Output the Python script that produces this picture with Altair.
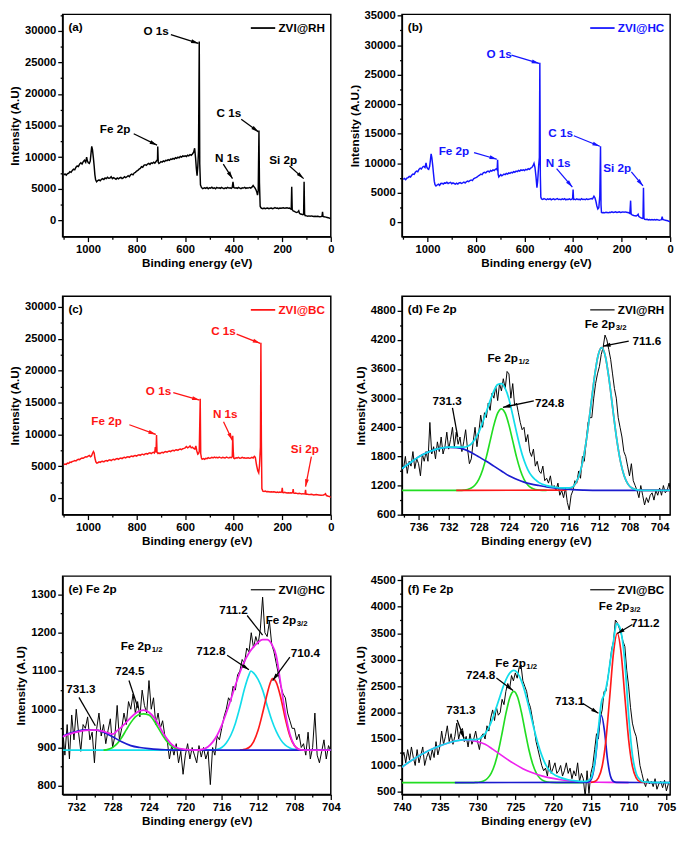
import math
import altair as alt
import pandas as pd

FONT = "Liberation Sans"
W = 275
BLACK = "#000000"
BLUE = "#1414FF"
RED = "#FF1414"
CYAN = "#12DDEB"
GREEN = "#22DD22"
FBLUE = "#1B1BCF"
FRED = "#FF1A1A"
MAGENTA = "#EE22EE"
ARROW = "M0,0L-0.42,1.6L0.42,1.6Z"

# ---------------- survey spectra (binding energy, intensity) ----------------
A_SURVEY = [
    (1100, 7200), (1095, 7350), (1090, 7150), (1085, 7400), (1080, 7450), (1075, 7700), (1070, 7600),
    (1065, 7900), (1060, 8100), (1055, 8000), (1050, 8400), (1045, 8600), (1040, 8500), (1035, 8900),
    (1030, 9100), (1025, 8900), (1020, 9300), (1015, 9500), (1010, 9200), (1006, 10000), (1003, 9400),
    (999, 9100), (995, 9000), (991, 9400), (988, 10600), (985, 11700), (982, 11200), (978, 9800),
    (975, 8600), (972, 7200), (969, 6400), (965, 6100), (960, 6300), (955, 6400), (950, 6250),
    (945, 6500), (940, 6600), (935, 6450), (930, 6700), (925, 6600), (920, 6800), (915, 6650),
    (910, 6700), (905, 6900), (900, 6600), (895, 6750), (890, 6650), (885, 6500), (880, 6700),
    (875, 6550), (870, 6700), (865, 6800), (860, 6600), (855, 6700), (850, 6900), (845, 6750),
    (840, 6900), (835, 7050), (830, 6900), (825, 7200), (820, 7300), (815, 7200), (810, 7500),
    (805, 7600), (800, 7800), (795, 7900), (790, 8100), (785, 8200), (780, 8500), (775, 8400),
    (770, 8700), (765, 8800), (760, 8700), (755, 8900), (750, 9000), (745, 8850), (740, 9100),
    (735, 9000), (730, 9200), (725, 9050), (720, 9300), (716, 9500), (714, 9600), (713, 11700),
    (711, 9200), (708, 9000), (704, 9100), (700, 9300), (695, 9200), (690, 9400), (685, 9300),
    (680, 9500), (675, 9450), (670, 9600), (665, 9500), (660, 9700), (655, 9650), (650, 9800),
    (645, 9700), (640, 9900), (635, 9800), (630, 10000), (625, 9900), (620, 10100), (615, 10000),
    (610, 10200), (605, 10100), (600, 10200), (595, 10100), (590, 10300), (585, 10200), (580, 10400),
    (575, 10300), (570, 10500), (565, 10800), (561, 11400), (557, 9800), (554, 8200), (551, 7060),
    (548, 8500), (545, 11000), (542, 28300), (540, 9000), (537, 5600), (533, 5200), (528, 5000),
    (520, 5150), (515, 5050), (510, 5200), (505, 5000), (500, 5150), (495, 5100), (490, 5250),
    (485, 5050), (480, 5150), (475, 5000), (470, 5200), (465, 5100), (460, 5150), (455, 5050),
    (450, 5200), (445, 5100), (440, 5000), (435, 5150), (430, 5050), (425, 5200), (420, 5100),
    (415, 5150), (410, 5050), (406, 5200), (403, 6100), (400, 5200), (396, 5100), (390, 5150),
    (385, 5050), (380, 5200), (375, 5100), (370, 5000), (365, 5150), (360, 5100), (355, 5200),
    (350, 5050), (345, 5150), (340, 5100), (335, 5200), (330, 5100), (325, 5250), (320, 5500),
    (316, 5300), (312, 5100), (308, 4800), (305, 4500), (302, 4000), (299, 4700), (296, 14200),
    (294, 6000), (291, 2200), (288, 2000), (285, 1900), (280, 1850), (275, 1950), (270, 1850),
    (265, 1900), (260, 1950), (255, 1850), (250, 1900), (245, 1950), (240, 1850), (235, 1900),
    (230, 2000), (225, 1900), (220, 1950), (215, 1850), (210, 1950), (205, 1900), (200, 1950),
    (195, 2000), (190, 1900), (185, 1950), (180, 2000), (175, 1900), (170, 1950), (166, 1800),
    (163, 1750), (161, 5300), (159, 1700), (155, 1500), (150, 1400), (145, 1300), (140, 1250),
    (135, 1350), (132, 1500), (129, 1100), (125, 1000), (120, 950), (115, 900), (112, 950),
    (110, 6100), (108, 1000), (106, 750), (100, 700), (95, 650), (90, 700), (85, 650), (80, 700),
    (75, 650), (70, 600), (65, 650), (60, 600), (55, 650), (50, 600), (45, 550), (40, 600),
    (36, 650), (34, 1350), (32, 600), (28, 550), (20, 500), (15, 450), (10, 400), (5, 350), (0, 250),
]

B_SURVEY = [
    (1100, 7300), (1095, 7450), (1090, 7250), (1085, 7500), (1080, 7600), (1075, 7800), (1070, 7700),
    (1065, 8000), (1060, 8200), (1055, 8150), (1050, 8500), (1045, 8700), (1040, 8600), (1035, 9000),
    (1030, 9200), (1025, 9050), (1020, 9400), (1015, 9500), (1010, 9300), (1006, 10100), (1003, 9400),
    (999, 9100), (995, 9000), (991, 9500), (988, 10500), (985, 11600), (982, 11000), (978, 9500),
    (975, 8200), (972, 7000), (969, 6400), (965, 6200), (960, 6350), (955, 6500), (950, 6300),
    (945, 6600), (940, 6650), (935, 6500), (930, 6700), (925, 6650), (920, 6800), (915, 6600),
    (910, 6700), (905, 6800), (900, 6550), (895, 6700), (890, 6600), (885, 6500), (880, 6650),
    (875, 6500), (870, 6700), (865, 6750), (860, 6600), (855, 6700), (850, 6850), (845, 6700),
    (840, 6900), (835, 7000), (830, 6900), (825, 7100), (820, 7200), (815, 7100), (810, 7400),
    (805, 7500), (800, 7600), (795, 7700), (790, 7900), (785, 8000), (780, 8200), (775, 8100),
    (770, 8400), (765, 8500), (760, 8400), (755, 8600), (750, 8700), (745, 8550), (740, 8800),
    (735, 8700), (730, 8900), (725, 8800), (720, 9000), (716, 9100), (713, 8900), (711, 10600),
    (709, 8200), (706, 7700), (702, 7900), (698, 8100), (694, 7900), (690, 8000), (685, 8200),
    (680, 8100), (675, 8300), (670, 8200), (665, 8400), (660, 8300), (655, 8500), (650, 8400),
    (645, 8600), (640, 8500), (635, 8700), (630, 8600), (625, 8800), (620, 8700), (615, 8900),
    (610, 8800), (605, 8900), (600, 8800), (595, 9000), (590, 8900), (585, 9100), (580, 9000),
    (575, 9200), (570, 9300), (565, 9600), (561, 10000), (557, 9300), (553, 7800), (549, 5900),
    (546, 7000), (542, 9500), (539, 11000), (537, 27000), (535, 8000), (533, 4300), (530, 4000),
    (525, 3900), (520, 4050), (515, 3950), (510, 3850), (505, 4000), (500, 3900), (495, 4050),
    (490, 3850), (485, 3950), (480, 4000), (475, 3850), (470, 3950), (465, 4050), (460, 3900),
    (455, 3950), (450, 3850), (445, 4000), (440, 3900), (435, 4050), (430, 3850), (425, 3950),
    (420, 3900), (415, 4000), (410, 3850), (405, 3950), (402, 4100), (400, 5600), (398, 3900),
    (395, 3950), (390, 3850), (385, 4000), (380, 3900), (375, 3950), (370, 3850), (365, 4050),
    (360, 3900), (355, 3950), (350, 3850), (345, 4000), (340, 3900), (335, 3950), (330, 4000),
    (325, 4050), (320, 4000), (314, 4450), (310, 4200), (306, 3600), (302, 2800), (298, 2300),
    (294, 2500), (290, 4500), (287, 12900), (285, 3000), (283, 1700), (280, 1650), (275, 1700),
    (270, 1650), (265, 1750), (260, 1700), (255, 1650), (250, 1750), (245, 1700), (240, 1800),
    (235, 1700), (230, 1750), (225, 1800), (220, 1700), (215, 1750), (210, 1800), (205, 1700),
    (200, 1750), (195, 1800), (190, 1750), (185, 1800), (180, 1750), (175, 1700), (170, 1650),
    (166, 1550), (163, 3700), (161, 1500), (157, 1300), (150, 1200), (145, 1150), (140, 1100),
    (135, 1250), (132, 1400), (129, 1000), (125, 900), (120, 800), (115, 700), (112, 750),
    (110, 5900), (108, 700), (105, 550), (100, 500), (95, 550), (90, 450), (85, 500), (80, 450),
    (75, 500), (70, 450), (65, 500), (60, 450), (55, 500), (50, 450), (45, 400), (40, 450),
    (36, 500), (33, 1000), (30, 500), (25, 450), (20, 400), (15, 350), (10, 300), (5, 200), (0, 100),
]

C_SURVEY = [
    (1100, 5250), (1095, 5350), (1090, 5300), (1085, 5500), (1080, 5450), (1075, 5650), (1070, 5600),
    (1065, 5750), (1060, 5800), (1055, 5900), (1050, 5850), (1045, 6000), (1040, 6100), (1035, 6050),
    (1030, 6200), (1025, 6300), (1020, 6250), (1015, 6400), (1010, 6500), (1005, 6450), (1000, 6600),
    (995, 6700), (990, 6500), (986, 6600), (982, 7000), (978, 7300), (975, 7100), (972, 6300),
    (968, 5700), (964, 5500), (960, 5550), (955, 5700), (950, 5600), (945, 5750), (940, 5800),
    (935, 5700), (930, 5850), (925, 5900), (920, 5800), (915, 5950), (910, 6000), (905, 5900),
    (900, 6050), (895, 6100), (890, 6000), (885, 6150), (880, 6200), (875, 6100), (870, 6250),
    (865, 6300), (860, 6200), (855, 6350), (850, 6400), (845, 6300), (840, 6450), (835, 6500),
    (830, 6400), (825, 6550), (820, 6600), (815, 6500), (810, 6650), (805, 6700), (800, 6600),
    (795, 6750), (790, 6800), (785, 6700), (780, 6850), (775, 6900), (770, 6800), (765, 6950),
    (760, 7000), (755, 6900), (750, 7050), (745, 7100), (740, 7000), (735, 7150), (730, 7200),
    (727, 7100), (725, 7300), (723, 8000), (721, 7200), (720, 7400), (718, 9900), (716, 7200),
    (712, 7000), (708, 7100), (704, 7000), (700, 7100), (695, 7200), (690, 7100), (685, 7250),
    (680, 7300), (675, 7200), (670, 7350), (665, 7400), (660, 7300), (655, 7450), (650, 7500),
    (645, 7400), (640, 7550), (635, 7600), (630, 7500), (625, 7650), (620, 7700), (615, 7600),
    (610, 7750), (605, 7800), (600, 7900), (595, 8100), (590, 7900), (585, 8000), (580, 8200),
    (575, 7900), (570, 8000), (565, 7800), (560, 7700), (556, 8200), (552, 7400), (548, 6900),
    (545, 7000), (542, 7300), (538, 15600), (536, 7000), (533, 6300), (530, 6100), (525, 6200),
    (520, 6100), (515, 6250), (510, 6200), (505, 6350), (500, 6250), (495, 6300), (490, 6400),
    (485, 6300), (480, 6450), (475, 6350), (470, 6400), (465, 6300), (460, 6450), (455, 6350),
    (450, 6300), (445, 6400), (440, 6350), (435, 6300), (430, 6450), (425, 6350), (420, 6300),
    (415, 6400), (410, 6350), (406, 6500), (404, 9800), (402, 7500), (400, 6300), (396, 6200),
    (390, 6350), (385, 6300), (380, 6400), (375, 6250), (370, 6300), (365, 6400), (360, 6300),
    (355, 6350), (350, 6250), (345, 6300), (340, 6350), (335, 6250), (330, 6300), (325, 6400),
    (320, 6300), (315, 6550), (311, 6400), (306, 5200), (301, 4300), (297, 3980), (294, 5000),
    (290, 8000), (288, 24400), (286, 9000), (284, 1500), (280, 1100), (275, 1050), (270, 1100),
    (265, 1000), (260, 1050), (255, 1000), (250, 950), (245, 1000), (240, 950), (235, 1000),
    (230, 950), (225, 900), (220, 950), (215, 900), (210, 950), (205, 900), (202, 1000),
    (200, 1600), (198, 900), (195, 850), (190, 900), (185, 850), (180, 800), (175, 850),
    (170, 800), (165, 850), (160, 800), (157, 900), (155, 1400), (153, 800), (150, 750),
    (145, 800), (140, 750), (135, 700), (130, 750), (125, 700), (120, 650), (115, 700),
    (110, 650), (106, 700), (104, 1300), (102, 600), (95, 600), (90, 550), (80, 600), (70, 500),
    (60, 550), (50, 500), (40, 450), (30, 500), (25, 600), (22, 700), (18, 400), (10, 300),
    (5, 250), (0, 100),
]

# ---------------- Fe 2p high-resolution spectra ----------------
# each row: intensities read at e, e-0.25, e-0.5, e-0.75 eV
D_RAW = {
    738: [1550, 1800, 1450, 1700], 737: [1600, 1900, 1550, 1750], 736: [1650, 1400, 1850, 1700],
    735: [1900, 1700, 2500, 1850], 734: [2000, 1750, 2100, 1900], 733: [2200, 1850, 2000, 2300],
    732: [1950, 2150, 2400, 2000], 731: [2300, 2050, 2200, 1900], 730: [2100, 2350, 1950, 1650],
    729: [1750, 2100, 2400, 2000], 728: [2300, 2650, 2400, 2700], 727: [2600, 2900, 2750, 3100],
    726: [3000, 3250, 2950, 3300], 725: [3150, 3400, 3200, 3550], 724: [3500, 3000, 3300, 2850],
    723: [2900, 2700, 2500, 2350], 722: [2400, 2100, 2250, 1900], 721: [1800, 1950, 1600, 1700],
    720: [1500, 1450, 1600, 1300], 719: [1350, 1250, 1400, 1150], 718: [1200, 1100, 1250, 1000],
    717: [1100, 950, 1150, 850], 716: [700, 1000, 1100, 1300], 715: [1250, 1500, 1350, 1800],
    714: [1700, 2100, 2500, 2600], 713: [2600, 3000, 3300, 3500], 712: [3650, 3900, 4050, 4300],
    711: [4200, 4000, 3800, 3500], 710: [3200, 3000, 2600, 2400], 709: [2200, 1900, 1800, 1600],
    708: [1400, 1650, 1300, 1200], 707: [1100, 950, 1200, 1000], 706: [800, 950, 850, 1000],
    705: [1050, 900, 1100, 1000], 704: [1150, 1000, 1200, 1050], 703: [1100, 1250, 1050, 1150],
}
D_CYAN = [(738.2, 1550), (737, 1680), (736, 1790), (735, 1870), (734, 1930), (733, 1970), (732, 1990),
          (731, 1990), (730, 1990), (729.5, 2010), (729, 2060), (728.5, 2160), (728, 2300), (727.5, 2500),
          (727, 2720), (726.5, 2950), (726, 3150), (725.5, 3280), (725, 3300), (724.5, 3200), (724, 2980),
          (723.5, 2650), (723, 2300), (722.5, 1980), (722, 1720), (721.5, 1530), (721, 1400), (720.5, 1320),
          (720, 1260), (719, 1200), (718, 1170), (717, 1150), (716, 1150), (715.5, 1175), (715.2, 1239),
          (714.7, 1403), (714.2, 1702), (713.7, 2163), (713.2, 2756), (712.7, 3378), (712.2, 3858),
          (711.7, 4040), (711.2, 3858), (710.7, 3378), (710.2, 2756), (709.7, 2160), (709.2, 1697),
          (708.7, 1395), (708.2, 1229), (707.7, 1150), (707.2, 1120), (706.7, 1105), (706, 1100), (702.6, 1100)]
D_BLUE = [(738.2, 1550), (737, 1680), (736, 1790), (735, 1870), (734, 1930), (733, 1970), (732, 1985),
          (731, 1980), (730, 1950), (729, 1880), (728, 1790), (727, 1700), (726, 1600), (725, 1500),
          (724, 1400), (723, 1330), (722, 1270), (721, 1230), (720, 1200), (719, 1170), (718, 1150),
          (717, 1135), (716, 1120), (715, 1110), (714, 1105), (712, 1100), (702.6, 1100)]
D_GREEN = [(738.2, 1100), (730.5, 1100), (730, 1106), (729.5, 1118), (729, 1148), (728.5, 1211), (728, 1327),
           (727.5, 1520), (727, 1790), (726.5, 2120), (726, 2445), (725.5, 2690), (725, 2780), (724.5, 2690),
           (724, 2445), (723.5, 2120), (723, 1790), (722.5, 1520), (722, 1327), (721.5, 1211), (721, 1148),
           (720.5, 1118), (720, 1106), (719, 1100)]
D_RED = [(731, 1100), (716.7, 1105), (716.2, 1120), (715.7, 1150), (715.2, 1229), (714.7, 1395), (714.2, 1697),
         (713.7, 2160), (713.2, 2756), (712.7, 3378), (712.2, 3858), (711.7, 4040), (711.2, 3858), (710.7, 3378),
         (710.2, 2756), (709.7, 2160), (709.2, 1697), (708.7, 1395), (708.2, 1229), (707.7, 1150), (707.2, 1120),
         (706.7, 1105), (706.2, 1100), (702.6, 1100)]

E_RAW = {
    734: [930, 900, 950, 880], 733: [960, 870, 985, 920], 732: [1000, 940, 890, 960],
    731: [950, 980, 920, 940], 730: [860, 950, 990, 930], 729: [960, 910, 945, 975],
    728: [900, 930, 1010, 920], 727: [950, 990, 960, 1020], 726: [1000, 1040, 990, 1020],
    725: [980, 1050, 1010, 990], 724: [1075, 1000, 1030, 960], 723: [990, 950, 970, 930],
    722: [920, 870, 905, 880], 721: [910, 860, 890, 830], 720: [880, 910, 870, 900],
    719: [880, 860, 905, 875], 718: [900, 870, 890, 803], 717: [900, 880, 930, 920],
    716: [950, 980, 1000, 1030], 715: [1020, 1060, 1050, 1090], 714: [1100, 1130, 1120, 1160],
    713: [1150, 1200, 1160, 1190], 712: [1170, 1210, 1293, 1200], 711: [1190, 1230, 1170, 1150],
    710: [1120, 1090, 1060, 1040], 709: [1030, 990, 970, 950], 708: [950, 920, 935, 900],
    707: [910, 880, 940, 870], 706: [900, 990, 880, 860], 705: [890, 920, 870, 905],
    704: [890, 910, 880, 900],
}
E_MAGENTA = [(733.5, 928), (733, 933), (732, 940), (731, 945), (730, 946), (729, 942), (728.5, 938), (728, 935),
             (727.5, 944), (727, 954), (726.5, 966), (726, 978), (725.5, 989), (725, 996), (724.6, 998),
             (724, 992), (723.5, 980), (723, 962), (722.5, 940), (722, 922), (721.5, 908), (721, 900),
             (720, 895), (719, 893), (718, 896), (717.5, 902), (717, 914), (716.5, 932), (716, 958),
             (715.5, 990), (715, 1025), (714.5, 1062), (714, 1096), (713.5, 1125), (713, 1147), (712.5, 1163),
             (712, 1175), (711.5, 1182), (711, 1182), (710.5, 1170), (710, 1140), (709.5, 1065), (709, 990),
             (708.5, 935), (708, 905), (707.5, 895), (707, 893), (704, 893)]
E_BLUE = [(733.5, 928), (733, 935), (732, 942), (731, 946), (730, 946), (729, 940), (728, 928), (727, 915),
          (726, 905), (725, 900), (724, 897), (723, 895), (722, 894), (720, 893), (704, 893)]
E_GREEN = [(729, 893), (728.5, 895), (728, 900), (727.5, 910), (727, 926), (726.5, 946), (726, 965), (725.5, 980),
           (725, 987), (724.6, 988), (724, 985), (723.5, 972), (723, 952), (722.5, 932), (722, 915), (721.5, 903),
           (721, 897), (720.5, 894), (720, 893)]
E_CYAN = [(733.5, 893), (717, 893), (716.5, 895), (716, 900), (715.5, 912), (715, 932), (714.5, 963), (714, 1005),
          (713.5, 1053), (713, 1090), (712.8, 1100), (712.5, 1095), (712, 1078), (711.5, 1050), (711, 1010),
          (710.5, 972), (710, 942), (709.5, 920), (709, 906), (708.5, 899), (708, 895), (707, 893), (704, 893)]
E_RED = [(714, 893), (713.5, 895), (713, 900), (712.5, 915), (712, 945), (711.5, 990), (711, 1040), (710.7, 1066),
         (710.4, 1080), (710, 1070), (709.5, 1030), (709, 975), (708.5, 930), (708, 905), (707.5, 895), (707, 893)]

F_RAW = {
    740: [1150, 1250, 1050, 1300], 739: [1100, 1350, 1150, 1000], 738: [1300, 1050, 1200, 1350],
    737: [1000, 1150, 1250, 1100], 736: [1300, 1150, 1450, 1200], 735: [1350, 1650, 1400, 1550],
    734: [1750, 1450, 1600, 1400], 733: [1550, 1800, 1500, 1650], 732: [1700, 1450, 1550, 1350],
    731: [1600, 1400, 1500, 1650], 730: [1450, 1300, 1550, 1600], 729: [1500, 1750, 1650, 1900],
    728: [2050, 1850, 2100, 1950], 727: [2000, 2250, 2150, 2400], 726: [2550, 2450, 2700, 2600],
    725: [2750, 2650, 2850, 2900], 724: [2600, 2500, 2400, 2200], 723: [2100, 1900, 1700, 1450],
    722: [1300, 1150, 1000, 900], 721: [950, 800, 1100, 850], 720: [950, 1050, 850, 900],
    719: [1000, 800, 900, 1050], 718: [850, 950, 750, 900], 717: [800, 1050, 700, 850],
    716: [750, 405, 900, 470], 715: [850, 1000, 1300, 1600], 714: [1500, 1900, 2050, 2400],
    713: [2400, 2650, 2900, 3200], 712: [3350, 3750, 3700, 3600], 711: [3500, 3350, 3250, 2800],
    710: [2500, 2100, 1800, 1650], 709: [1550, 1300, 1000, 850], 708: [700, 600, 750, 650],
    707: [700, 600, 750, 550], 706: [650, 700, 580, 720], 705: [520, 650, 700, 600],
}
F_CYAN = [(740, 970), (739, 1070), (738, 1160), (737, 1240), (736, 1310), (735, 1370), (734, 1420), (733, 1460),
          (732, 1485), (731, 1490), (730.5, 1490), (730, 1495), (729.5, 1530), (729, 1600), (728.5, 1720),
          (728, 1890), (727.5, 2100), (727, 2320), (726.5, 2530), (726, 2690), (725.5, 2780), (725.2, 2800),
          (725, 2790), (724.5, 2700), (724, 2520), (723.5, 2270), (723, 1980), (722.5, 1680), (722, 1410),
          (721.5, 1190), (721, 1020), (720.5, 910), (720, 840), (719, 770), (718, 730), (717, 710), (716, 700),
          (715.5, 705), (715, 760), (714.5, 1050), (714, 1700), (713.6, 2200), (713.2, 2350), (712.8, 2600),
          (712.4, 3000), (712, 3350), (711.6, 3680), (711.2, 3620), (710.8, 3350), (710.5, 2950), (710, 1950),
          (709.5, 1200), (709, 850), (708.5, 730), (708, 690), (707, 680), (704.5, 677)]
F_MAGENTA = [(740, 970), (739, 1070), (738, 1160), (737, 1240), (736, 1310), (735, 1370), (734, 1420),
             (733, 1460), (732, 1485), (731, 1480), (730, 1450), (729, 1400), (728, 1310), (727, 1210),
             (726, 1110), (725, 1020), (724, 940), (723, 875), (722, 825), (721, 785), (720, 755), (719, 730),
             (718, 712), (717, 700), (716, 692), (715, 686), (714, 682), (712, 679), (710, 677)]
F_GREEN = [(740, 677), (730.5, 677), (730.2, 680), (729.7, 687), (729.2, 706), (728.7, 753), (728.2, 849),
           (727.7, 1027), (727.2, 1297), (726.7, 1647), (726.2, 2012), (725.7, 2293), (725.2, 2400),
           (724.7, 2293), (724.2, 2012), (723.7, 1647), (723.2, 1297), (722.7, 1027), (722.2, 849),
           (721.7, 753), (721.2, 706), (720.7, 687), (720.2, 680), (719.5, 677), (716, 677)]
F_BLUE = [(733, 677), (715.6, 680), (715.2, 696), (714.8, 795), (714.4, 1120), (714, 1657), (713.6, 1950),
          (713.2, 1657), (712.8, 1120), (712.4, 795), (712, 696), (711.6, 680), (704.5, 677)]
F_RED = [(715, 680), (714.5, 696), (714, 766), (713.5, 985), (713, 1490), (712.5, 2300), (712, 3133),
         (711.5, 3500), (711, 3133), (710.5, 2300), (710, 1490), (709.5, 985), (709, 766), (708.5, 696),
         (708, 680), (707.5, 677)]

# ---------------- axis ticks ----------------
SURVEY_XTICKS = [0, 100, 200, 300, 400, 500, 600, 700, 800, 900, 1000, 1100]
A_YTICKS = [0, 2500, 5000, 7500, 10000, 12500, 15000, 17500, 20000, 22500, 25000, 27500, 30000, 32500]
B_YTICKS = [0, 2500, 5000, 7500, 10000, 12500, 15000, 17500, 20000, 22500, 25000, 27500, 30000, 32500, 35000]
C_YTICKS = [0, 2500, 5000, 7500, 10000, 12500, 15000, 17500, 20000, 22500, 25000, 27500, 30000]
D_XTICKS = [704, 706, 708, 710, 712, 714, 716, 718, 720, 722, 724, 726, 728, 730, 732, 734, 736, 738]
D_YTICKS = [600, 900, 1200, 1500, 1800, 2100, 2400, 2700, 3000, 3300, 3600, 3900, 4200, 4500, 4800]
E_XTICKS = [704, 706, 708, 710, 712, 714, 716, 718, 720, 722, 724, 726, 728, 730, 732]
E_YTICKS = [800, 850, 900, 950, 1000, 1050, 1100, 1150, 1200, 1250, 1300]
F_XTICKS = [705, 707.5, 710, 712.5, 715, 717.5, 720, 722.5, 725, 727.5, 730, 732.5, 735, 737.5, 740]
F_YTICKS = [500, 750, 1000, 1250, 1500, 1750, 2000, 2250, 2500, 2750, 3000, 3250, 3500, 3750, 4000, 4250, 4500]


def expand(raw):
    pts = []
    for e in sorted(raw, reverse=True):
        for k, v in enumerate(raw[e]):
            pts.append((e - 0.25 * k, v))
    return pts


def head_angle(x0, y0, x1, y1, xdom, ydom, h):
    kx = W / abs(xdom[0] - xdom[1])
    ky = h / abs(ydom[1] - ydom[0])
    dx = (x0 - x1) * kx
    dy = (y0 - y1) * ky
    return math.degrees(math.atan2(dx, -dy)) % 360


def major_axis(values, major, title):
    test = f"datum.value % {major} == 0"
    return alt.Axis(values=values, format="d", title=title,
                    labelExpr=f"{test} ? datum.label : ''",
                    tickSize={"condition": {"test": test, "value": 5}, "value": 2.5})


def panel(s):
    xdom, ydom, h = s["xdom"], s["ydom"], s["h"]
    X = alt.X("x:Q", scale=alt.Scale(domain=xdom, nice=False, zero=False),
              axis=major_axis(s["xticks"], s["xmajor"], "Binding energy (eV)"))
    Y = alt.Y("y:Q", scale=alt.Scale(domain=ydom, nice=False, zero=False),
              axis=major_axis(s["yticks"], s["ymajor"], s["ytitle"]))
    layers = []
    for pts, color, sw, interp in s["lines"]:
        df = pd.DataFrame(pts, columns=["x", "y"])
        layers.append(alt.Chart(df).mark_line(color=color, strokeWidth=sw, interpolate=interp, clip=True)
                      .encode(x=X, y=Y))
    tc = s["tcolor"]
    if s.get("texts"):
        df = pd.DataFrame(s["texts"], columns=["t", "x", "y"])
        layers.append(alt.Chart(df).mark_text(font=FONT, fontWeight="bold", fontSize=s["tsize"], color=tc)
                      .encode(x=X, y=Y, text="t:N"))
    if s.get("subs"):
        df = pd.DataFrame(s["subs"], columns=["x", "y", "t", "s"])
        layers.append(alt.Chart(df).mark_text(font=FONT, fontWeight="bold", fontSize=12, color=tc, align="right")
                      .encode(x=X, y=Y, text="t:N"))
        layers.append(alt.Chart(df).mark_text(font=FONT, fontWeight="bold", fontSize=8, color=tc, align="left",
                                              dy=4, dx=0.5)
                      .encode(x=X, y=Y, text="s:N"))
    segs = list(s.get("arrows", [])) + list(s.get("plain", []))
    if segs:
        df = pd.DataFrame(segs, columns=["x", "y", "x2", "y2"])
        layers.append(alt.Chart(df).mark_rule(color=tc, strokeWidth=1.3)
                      .encode(x=X, y=Y, x2=alt.X2("x2"), y2=alt.Y2("y2")))
    if s.get("arrows"):
        rows = [(a[2], a[3], head_angle(a[0], a[1], a[2], a[3], xdom, ydom, h)) for a in s["arrows"]]
        df = pd.DataFrame(rows, columns=["x", "y", "angle"])
        layers.append(alt.Chart(df).mark_point(shape=ARROW, filled=True, size=90, color=tc, opacity=1,
                                               strokeWidth=0)
                      .encode(x=X, y=Y, angle=alt.Angle("angle:Q", scale=None)))
    one = pd.DataFrame({"t": [s["tag"]], "l": [s["legend"]]})
    layers.append(alt.Chart(one).mark_text(font=FONT, fontWeight="bold", fontSize=12, color=BLACK,
                                           align="left", baseline="middle")
                  .encode(x=alt.value(6), y=alt.value(13), text="t:N"))
    layers.append(alt.Chart(one).mark_rule(color=s["lcolor"], strokeWidth=s["lwidth"])
                  .encode(x=alt.value(W - 82), x2=alt.value(W - 57), y=alt.value(14)))
    layers.append(alt.Chart(one).mark_text(font=FONT, fontWeight="bold", fontSize=12, color=s["lcolor"],
                                           align="right", baseline="middle")
                  .encode(x=alt.value(W - 6), y=alt.value(14), text="l:N"))
    return alt.layer(*layers).properties(width=W, height=h)


SURVEY_XDOM = [1105, 0]

pa = panel(dict(
    h=228, xdom=SURVEY_XDOM, ydom=[-2600, 32600], xticks=SURVEY_XTICKS, xmajor=200, yticks=A_YTICKS,
    ymajor=5000, ytitle="Intensity (A.U)", lines=[(A_SURVEY, BLACK, 1.5, "linear")], tcolor=BLACK, tsize=12,
    texts=[("O 1s", 720, 30000), ("C 1s", 420, 17000), ("Fe 2p", 889, 14400), ("N 1s", 426, 9850),
           ("Si 2p", 196, 9600)],
    arrows=[(659, 29400, 545, 28000), (369, 16000, 298, 14000), (812, 13700, 716, 11900),
            (443, 8900, 405, 6600), (170, 8600, 112, 6600)],
    tag="(a)", legend="ZVI@RH", lcolor=BLACK, lwidth=1.8))

pb = panel(dict(
    h=228, xdom=SURVEY_XDOM, ydom=[-2400, 35200], xticks=SURVEY_XTICKS, xmajor=200, yticks=B_YTICKS,
    ymajor=5000, ytitle="Intensity (A.U.)", lines=[(B_SURVEY, BLUE, 1.5, "linear")], tcolor=BLUE, tsize=12,
    texts=[("O 1s", 705, 28470), ("C 1s", 451, 15100), ("Fe 2p", 891, 12100), ("N 1s", 462, 10100),
           ("Si 2p", 218, 9230)],
    arrows=[(654, 28300, 540, 26900), (397, 14680, 290, 12900), (808, 11840, 714, 10700),
            (468, 9110, 403, 6000), (160, 8570, 112, 6200)],
    tag="(b)", legend="ZVI@HC", lcolor=BLUE, lwidth=1.8))

pc = panel(dict(
    h=224, xdom=SURVEY_XDOM, ydom=[-2600, 31700], xticks=SURVEY_XTICKS, xmajor=200, yticks=C_YTICKS,
    ymajor=5000, ytitle="Intensity (A.U)", lines=[(C_SURVEY, RED, 1.5, "linear")], tcolor=RED, tsize=12,
    texts=[("C 1s", 442, 26160), ("O 1s", 710, 16880), ("Fe 2p", 924, 12130), ("N 1s", 435, 13160),
           ("Si 2p", 107, 7650)],
    arrows=[(388, 25750, 291, 24300), (649, 16570, 541, 15400), (830, 11520, 721, 10000),
            (442, 11980, 406, 9100), (80, 6520, 104, 1800)],
    tag="(c)", legend="ZVI@BC", lcolor=RED, lwidth=1.8))

pd_ = panel(dict(
    h=224, xdom=[738.2, 702.6], ydom=[600, 5100], xticks=D_XTICKS, xmajor=4, yticks=D_YTICKS, ymajor=600,
    ytitle="Intensity (A.U)",
    lines=[(expand(D_RAW), BLACK, 1.0, "linear"), (D_GREEN, GREEN, 1.7, "monotone"),
           (D_RED, FRED, 1.7, "monotone"), (D_BLUE, FBLUE, 1.7, "monotone"), (D_CYAN, CYAN, 1.8, "monotone")],
    tcolor=BLACK, tsize=12,
    texts=[("711.6", 705.7, 4176), ("724.8", 718.6, 2898), ("731.3", 732.2, 2931)],
    subs=[(709.9, 4520, "Fe 2p", "3/2"), (722.8, 3825, "Fe 2p", "1/2")],
    arrows=[(708.1, 4176, 711.5, 4070), (720.7, 2945, 724.8, 2812)],
    plain=[(731.5, 2800, 730.8, 2203)],
    tag="(d) Fe 2p", legend="ZVI@RH", lcolor=BLACK, lwidth=1.2))

pe = panel(dict(
    h=224, xdom=[733.5, 704], ydom=[777, 1348], xticks=E_XTICKS, xmajor=4, yticks=E_YTICKS, ymajor=100,
    ytitle="Intensity (A.U)",
    lines=[(expand(E_RAW), BLACK, 1.0, "linear"), (E_CYAN, CYAN, 1.7, "monotone"),
           (E_GREEN, GREEN, 1.7, "monotone"), (E_RED, FRED, 1.7, "monotone"), (E_BLUE, FBLUE, 1.7, "monotone"),
           (E_MAGENTA, MAGENTA, 1.8, "monotone")],
    tcolor=BLACK, tsize=12,
    texts=[("711.2", 714.7, 1259), ("712.8", 717.2, 1152), ("710.4", 706.8, 1146), ("724.5", 726.1, 1099),
           ("731.3", 731.5, 1052)],
    subs=[(707.8, 1232, "Fe 2p", "3/2"), (723.75, 1166, "Fe 2p", "1/2")],
    arrows=[(715.4, 1141, 713.0, 1103), (708.5, 1136, 710.4, 1075)],
    plain=[(713.2, 1245, 711.5, 1194), (726.2, 1075, 725.2, 1003), (731.7, 1031, 729.9, 957)],
    tag="(e) Fe 2p", legend="ZVI@HC", lcolor=BLACK, lwidth=1.2))

pf = panel(dict(
    h=224, xdom=[740, 704.5], ydom=[450, 4580], xticks=F_XTICKS, xmajor=5, yticks=F_YTICKS, ymajor=500,
    ytitle="Intensity (A.U)",
    lines=[(expand(F_RAW), BLACK, 1.0, "linear"), (F_GREEN, GREEN, 1.7, "monotone"),
           (F_MAGENTA, MAGENTA, 1.7, "monotone"), (F_BLUE, FBLUE, 1.7, "monotone"),
           (F_RED, FRED, 1.7, "monotone"), (F_CYAN, CYAN, 1.8, "monotone")],
    tcolor=BLACK, tsize=12,
    texts=[("711.2", 707.8, 3696), ("724.8", 729.6, 2703), ("713.1", 717.8, 2209), ("731.3", 732.2, 2051)],
    subs=[(709.9, 4013, "Fe 2p", "3/2"), (723.6, 2937, "Fe 2p", "1/2")],
    arrows=[(709.5, 3665, 711.5, 3494), (727.5, 2652, 725.3, 2418), (716.1, 2177, 714.0, 1987),
            (732.7, 1861, 731.8, 1513)],
    tag="(f) Fe 2p", legend="ZVI@BC", lcolor=BLACK, lwidth=1.2))

chart = alt.concat(pa, pb, pc, pd_, pe, pf, columns=2, align="each",
                   spacing={"row": 26, "column": 6}).properties(
    padding={"top": -11, "left": 0, "right": 0, "bottom": 0}
).configure_axis(
    labelFont=FONT, labelFontWeight="bold", labelFontSize=11.5, labelColor=BLACK,
    titleFont=FONT, titleFontWeight="bold", titleFontSize=12, titleColor=BLACK,
    domainColor=BLACK, domainWidth=1.3, tickColor=BLACK, tickWidth=1.3,
    labelPadding=2, titlePadding=3, labelOverlap=False, labelFlush=False, grid=False,
).configure_view(stroke=BLACK, strokeWidth=1.5)

chart.save("out.html", embed_options={"renderer": "svg", "actions": False})
